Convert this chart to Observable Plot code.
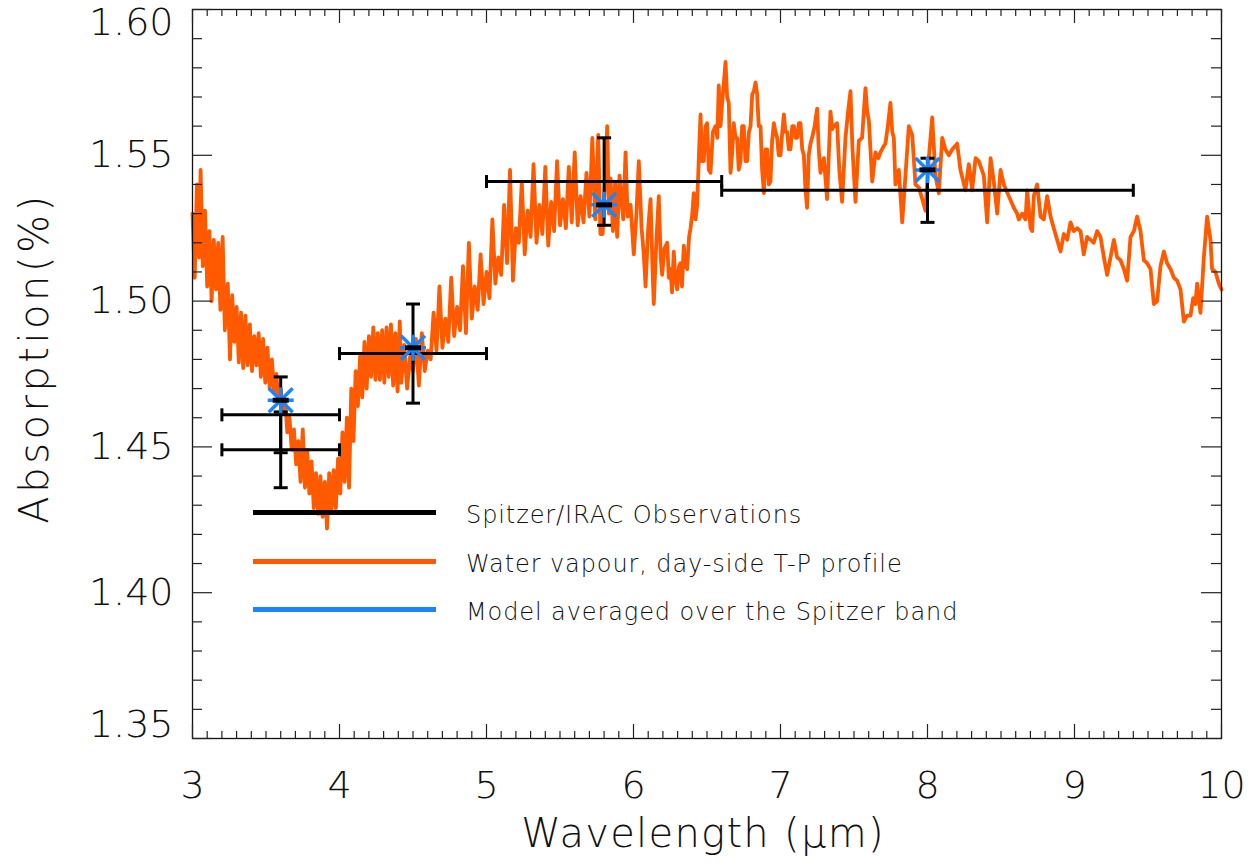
<!DOCTYPE html>
<html><head><meta charset="utf-8">
<script src="https://cdn.jsdelivr.net/npm/d3@7"></script>
<script src="https://cdn.jsdelivr.net/npm/@observablehq/plot@0.6"></script>
<style>
body{margin:0;background:#fff;}
#wrap{position:relative;width:1255px;height:863px;font-family:"DejaVu Sans",sans-serif;font-weight:200;}
.legline{position:absolute;left:253px;width:183px;height:5px;}
.legtext{position:absolute;left:466px;height:30px;line-height:30px;font-size:24px;letter-spacing:0.9px;color:#111;white-space:nowrap;}
</style></head><body><div id="wrap"></div>
<script>
// ---- data ----
const xTickValues = [3, 4, 5, 6, 7, 8, 9, 10];
const xTickLabels = ["3", "4", "5", "6", "7", "8", "9", "10"];
const yTickValues = [1.35, 1.40, 1.45, 1.50, 1.55, 1.60];
const yTickLabels = ["1.35", "1.40", "1.45", "1.50", "1.55", "1.60"];

// Spitzer/IRAC observations
const obsWave = [3.6, 3.6, 4.5, 5.8, 8.0];
const obsAbs  = [1.461, 1.449, 1.482, 1.541, 1.538];
const obsErr  = [0.013, 0.013, 0.017, 0.015, 0.011];
const obsLo   = [3.2, 3.2, 4.0, 5.0, 6.6];
const obsHi   = [4.0, 4.0, 5.0, 6.6, 9.4];

// Model averaged over the Spitzer band
const modelWave = [3.6, 4.5, 5.8, 8.0];
const modelAbs  = [1.466, 1.484, 1.533, 1.545];

// Water vapour model spectrum [wavelength (µm), absorption (%)]
const spectrum = [
[3.000,1.530],[3.015,1.508],[3.030,1.540],[3.045,1.515],[3.055,1.545],[3.070,1.512],[3.085,1.531],[3.100,1.505],[3.115,1.524],[3.130,1.500],
[3.145,1.521],[3.160,1.504],[3.175,1.520],[3.190,1.497],[3.205,1.522],[3.220,1.490],[3.240,1.506],[3.255,1.480],[3.270,1.502],[3.285,1.486],
[3.300,1.498],[3.315,1.479],[3.330,1.496],[3.345,1.477],[3.360,1.495],[3.375,1.478],[3.390,1.492],[3.405,1.476],[3.420,1.488],[3.435,1.478],
[3.450,1.489],[3.465,1.474],[3.480,1.487],[3.495,1.472],[3.510,1.484],[3.525,1.470],[3.540,1.480],[3.555,1.469],[3.570,1.475],[3.585,1.466],
[3.600,1.470],[3.615,1.462],[3.630,1.466],[3.645,1.455],[3.660,1.460],[3.675,1.449],[3.690,1.456],[3.705,1.444],[3.720,1.452],[3.735,1.438],
[3.750,1.456],[3.765,1.436],[3.780,1.449],[3.795,1.434],[3.810,1.445],[3.825,1.429],[3.840,1.441],[3.855,1.427],[3.870,1.440],[3.885,1.426],
[3.900,1.438],[3.915,1.422],[3.930,1.441],[3.945,1.428],[3.960,1.442],[3.975,1.429],[3.990,1.446],[4.005,1.434],[4.020,1.455],[4.035,1.438],
[4.050,1.460],[4.065,1.436],[4.080,1.470],[4.095,1.452],[4.110,1.476],[4.125,1.464],[4.140,1.481],[4.155,1.467],[4.170,1.486],[4.185,1.470],
[4.200,1.488],[4.215,1.474],[4.230,1.491],[4.245,1.473],[4.260,1.489],[4.275,1.473],[4.290,1.490],[4.305,1.472],[4.320,1.491],[4.335,1.474],
[4.350,1.492],[4.365,1.471],[4.380,1.489],[4.395,1.469],[4.410,1.493],
[4.420,1.472],[4.440,1.485],[4.460,1.470],[4.480,1.481],[4.500,1.476],[4.520,1.487],[4.540,1.471],[4.560,1.489],[4.580,1.476],[4.600,1.483],
[4.620,1.480],[4.640,1.496],[4.660,1.483],[4.680,1.505],[4.700,1.484],[4.720,1.494],[4.740,1.486],[4.760,1.508],[4.780,1.488],[4.800,1.498],
[4.820,1.490],[4.840,1.512],[4.860,1.489],[4.880,1.520],[4.900,1.494],[4.920,1.505],[4.940,1.497],[4.960,1.516],[4.980,1.499],[5.000,1.510],
[5.020,1.501],[5.040,1.528],[5.060,1.506],[5.080,1.515],[5.100,1.509],[5.120,1.533],[5.140,1.513],[5.160,1.545],[5.180,1.507],[5.200,1.525],
[5.220,1.520],[5.240,1.541],[5.260,1.516],[5.280,1.531],[5.300,1.522],[5.320,1.547],[5.340,1.520],[5.360,1.533],[5.380,1.523],[5.400,1.546],
[5.420,1.519],[5.440,1.534],[5.460,1.524],[5.480,1.548],[5.500,1.526],[5.520,1.535],[5.540,1.525],[5.560,1.546],[5.580,1.527],[5.600,1.551],
[5.620,1.526],[5.640,1.536],[5.660,1.527],[5.680,1.544],[5.700,1.529],[5.720,1.556],[5.740,1.528],[5.760,1.557],[5.775,1.523],
[5.790,1.523],[5.810,1.545],[5.821,1.560],[5.833,1.530],[5.844,1.542],[5.860,1.524],[5.875,1.541],[5.889,1.522],[5.905,1.543],[5.930,1.528],
[5.946,1.551],[5.960,1.529],[5.980,1.533],[6.002,1.516],[6.020,1.530],[6.036,1.548],[6.055,1.525],[6.070,1.516],[6.082,1.505],[6.100,1.525],
[6.116,1.535],[6.130,1.510],[6.138,1.499],[6.155,1.520],[6.172,1.536],[6.185,1.515],[6.195,1.509],[6.210,1.518],[6.229,1.520],[6.240,1.508],
[6.252,1.511],[6.262,1.503],[6.274,1.517],[6.285,1.508],[6.297,1.504],[6.310,1.512],[6.320,1.513],[6.330,1.505],[6.342,1.519],[6.355,1.512],
[6.365,1.511],[6.378,1.522],[6.388,1.525],[6.400,1.530],[6.410,1.537],[6.422,1.528],[6.433,1.533],[6.445,1.550],[6.456,1.564],[6.467,1.548],
[6.478,1.548],[6.490,1.560],[6.501,1.561],[6.512,1.545],[6.524,1.544],[6.540,1.558],[6.558,1.560],[6.570,1.556],[6.580,1.574],[6.592,1.560],
[6.603,1.568],[6.615,1.575],[6.626,1.582],[6.637,1.570],[6.648,1.568],[6.660,1.544],[6.670,1.550],[6.682,1.561],[6.694,1.556],[6.705,1.556],
[6.716,1.545],[6.728,1.548],[6.739,1.560],[6.750,1.560],[6.762,1.548],[6.773,1.548],[6.785,1.558],[6.796,1.560],[6.808,1.571],[6.819,1.572],
[6.830,1.575],[6.841,1.571],[6.852,1.560],[6.864,1.560],[6.875,1.545],[6.887,1.537],[6.898,1.552],[6.909,1.552],[6.920,1.540],[6.932,1.541],
[6.943,1.555],[6.955,1.561],[6.966,1.558],[6.977,1.556],[6.988,1.550],[7.000,1.550],[7.012,1.558],[7.023,1.564],[7.034,1.558],[7.045,1.558],
[7.057,1.552],[7.068,1.552],[7.080,1.560],[7.091,1.560],[7.102,1.556],[7.113,1.556],[7.125,1.561],[7.136,1.561],[7.148,1.552],[7.159,1.550],
[7.170,1.538],[7.181,1.532],[7.192,1.550],[7.204,1.554],
[7.215,1.556],[7.232,1.560],[7.249,1.566],[7.260,1.552],[7.272,1.544],[7.295,1.549],[7.317,1.535],[7.340,1.565],[7.352,1.559],[7.363,1.560],
[7.385,1.561],[7.400,1.545],[7.419,1.534],[7.442,1.556],[7.460,1.565],[7.476,1.572],[7.490,1.552],[7.510,1.534],[7.533,1.555],[7.555,1.556],
[7.578,1.573],[7.590,1.565],[7.601,1.562],[7.624,1.541],[7.646,1.551],[7.665,1.549],[7.680,1.551],[7.700,1.553],[7.714,1.554],[7.730,1.560],
[7.748,1.568],[7.760,1.558],[7.771,1.556],[7.782,1.540],[7.805,1.545],[7.828,1.527],[7.850,1.543],[7.873,1.560],[7.896,1.557],[7.918,1.540],
[7.941,1.539],[7.964,1.535],[7.986,1.531],[8.009,1.549],[8.032,1.563],[8.054,1.543],[8.077,1.537],[8.100,1.556],[8.122,1.552],[8.145,1.550],
[8.168,1.552],[8.202,1.554],[8.224,1.545],[8.258,1.538],[8.281,1.547],[8.304,1.538],[8.327,1.549],[8.349,1.548],[8.383,1.543],[8.406,1.527],
[8.429,1.549],[8.451,1.541],[8.474,1.530],[8.497,1.545],[8.519,1.540],[8.553,1.536],[8.587,1.532],
[8.610,1.530],[8.621,1.528],[8.644,1.530],[8.667,1.528],[8.678,1.538],[8.701,1.525],[8.712,1.524],[8.723,1.536],[8.746,1.540],[8.769,1.529],
[8.791,1.528],[8.814,1.536],[8.837,1.529],[8.859,1.525],[8.882,1.521],[8.905,1.517],[8.927,1.523],[8.950,1.521],[8.973,1.527],[8.995,1.524],
[9.018,1.525],[9.041,1.524],[9.063,1.516],[9.086,1.522],[9.109,1.521],[9.131,1.520],[9.154,1.524],[9.177,1.522],[9.200,1.515],[9.222,1.509],
[9.245,1.515],[9.268,1.521],[9.290,1.515],[9.313,1.514],[9.336,1.511],[9.358,1.507],[9.381,1.522],[9.404,1.524],[9.426,1.529],[9.449,1.524],
[9.472,1.514],[9.494,1.513],[9.517,1.511],[9.540,1.499],[9.562,1.500],[9.585,1.512],[9.608,1.517],[9.630,1.513],[9.653,1.511],[9.676,1.508],
[9.698,1.507],[9.721,1.504],[9.744,1.493],[9.766,1.495],[9.789,1.495],[9.807,1.501],[9.823,1.499],[9.834,1.506],[9.857,1.496],[9.880,1.515],
[9.902,1.529],[9.925,1.521],[9.936,1.511],[9.959,1.510],[9.982,1.506],[10.000,1.504]
];

const legendItems = ["Spitzer/IRAC Observations", "Water vapour, day-side T-P profile", "Model averaged over the Spitzer band"];
const legendColors = ["#000000", "#ff5a00", "#1a85ff"];

// ---- build ----
const ORANGE = "#ff5a00", BLUE = "#1a85ff";
const obs = obsWave.map((x, i) => ({x, y: obsAbs[i], err: obsErr[i], lo: obsLo[i], hi: obsHi[i]}));
const model = modelWave.map((x, i) => ({x, y: modelAbs[i]}));
const xMinor = d3.range(30, 101).filter(d => d % 10 !== 0).map(d => d / 10);
const yMinor = d3.range(135, 161).filter(d => d % 5 !== 0).map(d => d / 100);

const rad = s => Math.sqrt(s / Math.PI);
const hbar = {draw(c, s) { const r = rad(s); c.moveTo(-r, 0); c.lineTo(r, 0); }};
const vbar = {draw(c, s) { const r = rad(s); c.moveTo(0, -r); c.lineTo(0, r); }};
const star = {draw(c, s) { const r = rad(s), d = r * 0.92;
  c.moveTo(-r, 0); c.lineTo(r, 0); c.moveTo(0, -r); c.lineTo(0, r);
  c.moveTo(-d, -d); c.lineTo(d, d); c.moveTo(-d, d); c.lineTo(d, -d); }};

// tick lengths (pixels converted to data units: 147 px/µm, 2916 px/unit)
const xMajLen = 14 / 2916, xMinLen = 7 / 2916, yMajLen = 20 / 147, yMinLen = 10 / 147;
const TICK = {stroke: "#222", strokeWidth: 1.2};
const FONT = "'DejaVu Sans', sans-serif";

const chart = Plot.plot({
  width: 1255, height: 863,
  marginLeft: 192, marginRight: 34, marginTop: 9, marginBottom: 125,
  x: {domain: [3, 10], axis: null},
  y: {domain: [1.35, 1.60], axis: null},
  style: {fontFamily: FONT, fontWeight: 200, color: "#111", background: "white", overflow: "visible"},
  marks: [
    Plot.line(spectrum, {x: d => d[0], y: d => d[1], stroke: ORANGE, strokeWidth: 3.8}),
    // error bars
    Plot.ruleY(obs, {y: "y", x1: "lo", x2: "hi", stroke: "black", strokeWidth: 3}),
    Plot.ruleX(obs, {x: "x", y1: d => d.y - d.err, y2: d => d.y + d.err, stroke: "black", strokeWidth: 3}),
    Plot.dot(obs, {x: "lo", y: "y", symbol: vbar, r: 6.5, stroke: "black", fill: "none", strokeWidth: 3}),
    Plot.dot(obs, {x: "hi", y: "y", symbol: vbar, r: 6.5, stroke: "black", fill: "none", strokeWidth: 3}),
    Plot.dot(obs, {x: "x", y: d => d.y + d.err, symbol: hbar, r: 7, stroke: "black", fill: "none", strokeWidth: 3}),
    Plot.dot(obs, {x: "x", y: d => d.y - d.err, symbol: hbar, r: 7, stroke: "black", fill: "none", strokeWidth: 3}),
    // model points
    Plot.dot(model, {x: "x", y: "y", symbol: star, r: 13, stroke: BLUE, fill: "none", strokeWidth: 3.5}),
    Plot.dot(model, {x: "x", y: "y", symbol: hbar, r: 8, stroke: "black", fill: "none", strokeWidth: 5}),
    // frame and inward ticks on all four sides
    Plot.frame({stroke: "#111", strokeWidth: 1.3}),
    Plot.ruleX(xTickValues, {x: d => d, y1: 1.35, y2: 1.35 + xMajLen, ...TICK}),
    Plot.ruleX(xMinor, {x: d => d, y1: 1.35, y2: 1.35 + xMinLen, ...TICK}),
    Plot.ruleX(xTickValues, {x: d => d, y1: 1.60 - xMajLen, y2: 1.60, ...TICK}),
    Plot.ruleX(xMinor, {x: d => d, y1: 1.60 - xMinLen, y2: 1.60, ...TICK}),
    Plot.ruleY(yTickValues, {y: d => d, x1: 3, x2: 3 + yMajLen, ...TICK}),
    Plot.ruleY(yMinor, {y: d => d, x1: 3, x2: 3 + yMinLen, ...TICK}),
    Plot.ruleY(yTickValues, {y: d => d, x1: 10 - yMajLen, x2: 10, ...TICK}),
    Plot.ruleY(yMinor, {y: d => d, x1: 10 - yMinLen, x2: 10, ...TICK}),
    // tick labels
    Plot.text(xTickValues, {x: d => d, y: 1.35, dy: 47, text: (d, i) => xTickLabels[i], fontSize: 38, fill: "#111", fontWeight: 200}),
    Plot.text(yTickValues.slice(1, 5), {x: 3, y: d => d, dx: -19, textAnchor: "end", text: (d, i) => yTickLabels[i + 1], fontSize: 38, fill: "#111", fontWeight: 200}),
    Plot.text([yTickValues[0]], {x: 3, y: d => d, dx: -19, dy: -14, textAnchor: "end", text: [yTickLabels[0]], fontSize: 38, fill: "#111", fontWeight: 200}),
    Plot.text([yTickValues[5]], {x: 3, y: d => d, dx: -19, dy: 13, textAnchor: "end", text: [yTickLabels[5]], fontSize: 38, fill: "#111", fontWeight: 200}),
    // axis titles
    Plot.text(["Wavelength (μm)"], {frameAnchor: "bottom", dy: 108, dx: -4, fontSize: 40, fill: "#111", fontWeight: 200}),
    Plot.text(["Absorption(%)"], {frameAnchor: "left", textAnchor: "middle", dx: -157, dy: -16, rotate: -90, fontSize: 40, fill: "#111", fontWeight: 200})
  ]
});
chart.style.position = "absolute"; chart.style.left = "0"; chart.style.top = "0";
const wrap = document.getElementById("wrap");
wrap.appendChild(chart);
chart.querySelectorAll("text").forEach(t => {
  const s = t.textContent;
  if (s === "Wavelength (μm)") t.setAttribute("letter-spacing", "1.3");
  if (s === "Absorption(%)") t.setAttribute("letter-spacing", "3.5");
});

// legend overlay
const legY = [512, 561, 609];
legendItems.forEach((label, i) => {
  const ln = document.createElement("div");
  ln.className = "legline";
  ln.style.top = (legY[i] - 2.5) + "px";
  ln.style.background = legendColors[i];
  wrap.appendChild(ln);
  const tx = document.createElement("div");
  tx.className = "legtext";
  tx.style.top = (legY[i] - 12) + "px";
  tx.textContent = label;
  wrap.appendChild(tx);
});
</script>
</body></html>
